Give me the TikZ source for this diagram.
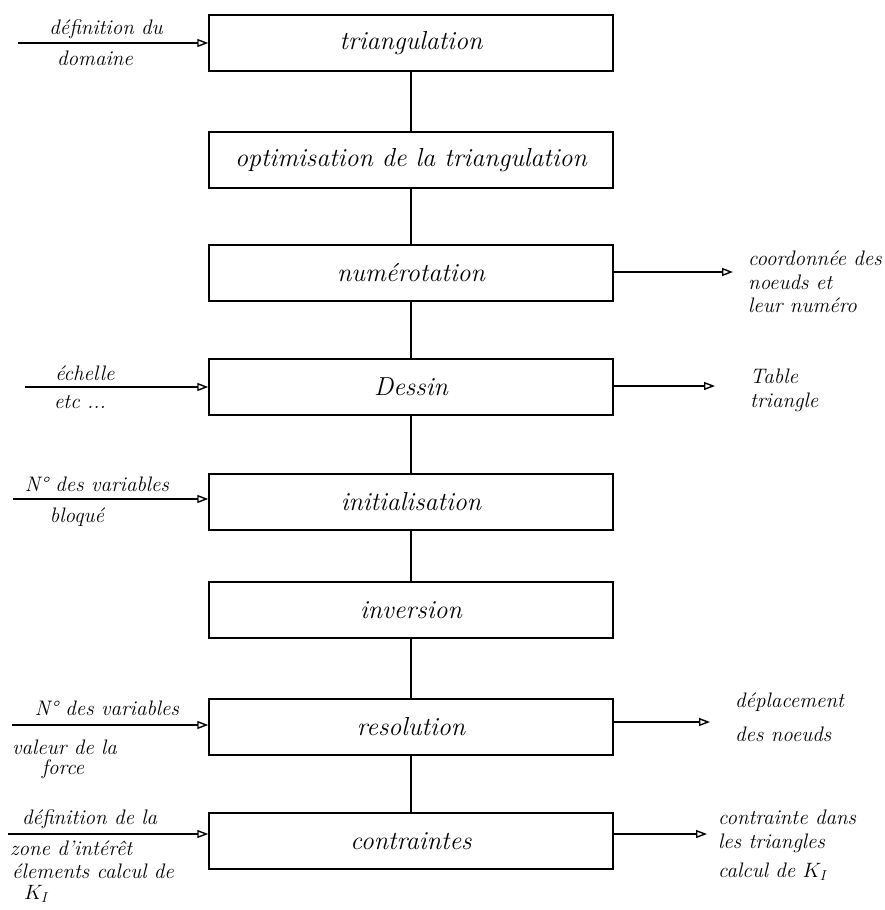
\documentclass[tikz,border=0pt]{standalone}
\usepackage{fontspec}
\usetikzlibrary{arrows.meta}
\tikzset{
  stage/.style={draw, line width=1.5pt, minimum width=404pt, minimum height=56pt, inner sep=0pt,
    font=\fontsize{26}{30}\selectfont\itshape},
  side/.style={inner sep=0pt, font=\fontsize{21}{24}\selectfont\itshape},
  flow/.style={line width=1.5pt},
  io/.style={line width=1.4pt, -{Triangle[open, length=11pt, width=8pt, line width=1.4pt]}},
}
\begin{document}
\begin{tikzpicture}[x=1pt,y=-1pt]
\useasboundingbox (0,0) rectangle (885,910);
% stages
\node[stage] (b1) at (411,43) {triangulation};
\node[stage] (b2) at (411,160) {optimisation de la triangulation};
\node[stage] (b3) at (411,273) {numérotation};
\node[stage] (b4) at (411,387) {Dessin};
\node[stage] (b5) at (411,502) {initialisation};
\node[stage] (b6) at (411,610) {inversion};
\node[stage] (b7) at (411,727) {resolution};
\node[stage] (b8) at (411,841) {contraintes};
% vertical flow
\draw[flow] (b1.south) -- (b2.north);
\draw[flow] (b2.south) -- (b3.north);
\draw[flow] (b3.south) -- (b4.north);
\draw[flow] (b4.south) -- (b5.north);
\draw[flow] (b5.south) -- (b6.north);
\draw[flow] (b6.south) -- (b7.north);
\draw[flow] (b7.south) -- (b8.north);
% inputs
\coordinate (i1) at (18,43);
\coordinate (i4) at (25,387);
\coordinate (i5) at (13,499);
\coordinate (i7) at (12,725);
\coordinate (i8) at (8,834);
\draw[io] (i1) -- (i1 -| b1.west);
\draw[io] (i4) -- (i4 -| b4.west);
\draw[io] (i5) -- (i5 -| b5.west);
\draw[io] (i7) -- (i7 -| b7.west);
\draw[io] (i8) -- (i8 -| b8.west);
\node[side] (t1a) at (106,29) {définition du};
\node[side] (t1b) at (95,58) {domaine};
\node[side] (t4a) at (85,373) {échelle};
\node[side] (t4b) at (80,402) {etc ...};
\node[side] (t5a) at (97,484) {N° des variables};
\node[side] (t5b) at (77,517) {bloqué};
\node[side] (t7a) at (107,708) {N° des variables};
\node[side, anchor=west] (t7b) at (12,747) {valeur de la};
\node[side] (t7c) at (63,769) {force};
\node[side, anchor=west] (t8a) at (22,819) {définition de la};
\node[side, anchor=west] (t8b) at (10,848) {zone d'intérêt};
\node[side, anchor=west] (t8c) at (12,871) {élements calcul de};
\node[side, anchor=west] (t8d) at (24,894) {$K_I$};
% outputs
\coordinate (o3) at (733,272);
\coordinate (o4) at (715,386);
\coordinate (o7) at (710,722);
\coordinate (o8) at (707,834);
\draw[io] (o3 -| b3.east) -- (o3);
\draw[io] (o4 -| b4.east) -- (o4);
\draw[io] (o7 -| b7.east) -- (o7);
\draw[io] (o8 -| b8.east) -- (o8);
\node[side, anchor=west] (r3a) at (748,258) {coordonnée des};
\node[side, anchor=west] (r3b) at (748,282) {noeuds et};
\node[side, anchor=west] (r3c) at (748,305) {leur numéro};
\node[side, anchor=west] (r4a) at (750,376) {Table};
\node[side, anchor=west] (r4b) at (750,402) {triangle};
\node[side, anchor=west] (r7a) at (735,702) {déplacement};
\node[side, anchor=west] (r7b) at (735,734) {des noeuds};
\node[side, anchor=west] (r8a) at (718,817) {contrainte dans};
\node[side, anchor=west] (r8b) at (718,843) {les triangles};
\node[side, anchor=west] (r8c) at (718,872) {calcul de $K_I$};
\end{tikzpicture}
\end{document}
